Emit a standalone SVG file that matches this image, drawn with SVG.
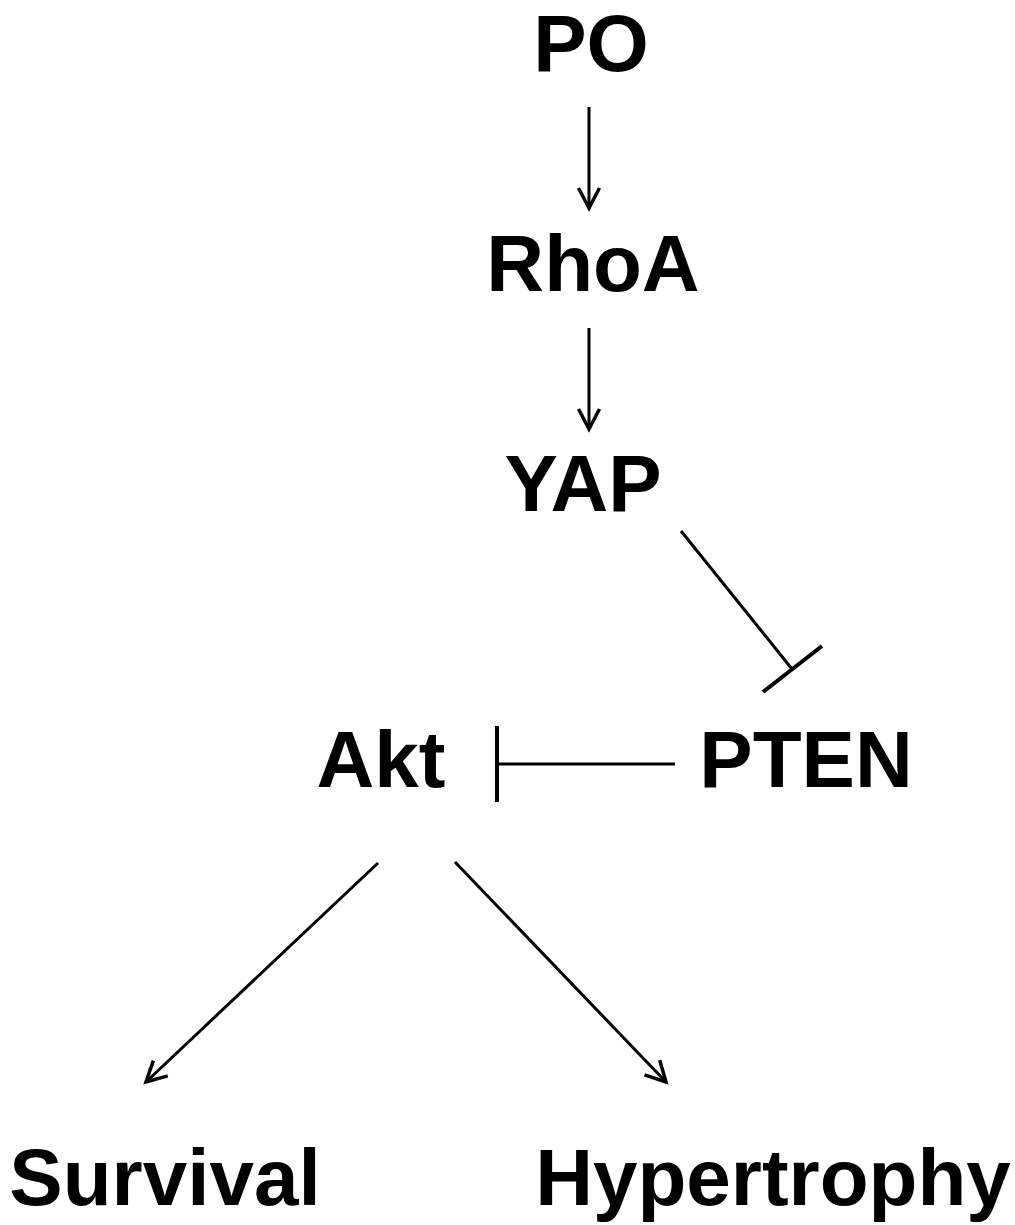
<svg xmlns="http://www.w3.org/2000/svg" width="1015" height="1225" viewBox="0 0 1015 1225">
<style>
.lbl{font-family:"Liberation Sans",Arial,sans-serif;font-weight:bold;font-size:80px;fill:#000;text-anchor:middle}
.edge{stroke:#000;stroke-width:3;fill:none}
.bar{stroke:#000;stroke-width:4;fill:none}
</style>
<defs>
<marker id="arr" viewBox="-24 -14 28 28" markerWidth="28" markerHeight="28" refX="0" refY="0" orient="auto" markerUnits="userSpaceOnUse">
<path d="M-20,-10.5 L0,0 L-20,10.5" fill="none" stroke="#000" stroke-width="3.5" stroke-linejoin="miter"/>
</marker>
</defs>
<rect width="1015" height="1225" fill="#fff"/>
<g id="connectors">
<line class="edge" x1="589" y1="107" x2="589" y2="208" marker-end="url(#arr)"/>
<line class="edge" x1="589" y1="328" x2="589" y2="429" marker-end="url(#arr)"/>
<line class="edge" x1="681" y1="531" x2="792" y2="669"/>
<line class="bar" x1="763" y1="692" x2="822" y2="646"/>
<line class="edge" x1="675" y1="764" x2="497" y2="764"/>
<line class="bar" x1="497" y1="726" x2="497" y2="802"/>
<line class="edge" x1="378" y1="863" x2="146" y2="1082" marker-end="url(#arr)"/>
<line class="edge" x1="455" y1="862" x2="666" y2="1082" marker-end="url(#arr)"/>
</g>
<g id="node-PO"><text class="lbl" x="591" y="71">PO</text></g>
<g id="node-RhoA"><text class="lbl" x="593" y="291">RhoA</text></g>
<g id="node-YAP"><text class="lbl" x="583" y="511">YAP</text></g>
<g id="node-Akt"><text class="lbl" x="381" y="787">Akt</text></g>
<g id="node-PTEN"><text class="lbl" x="806" y="787">PTEN</text></g>
<g id="node-Survival"><text class="lbl" x="165" y="1205">Survival</text></g>
<g id="node-Hypertrophy"><text class="lbl" x="773" y="1205">Hypertrophy</text></g>
</svg>
